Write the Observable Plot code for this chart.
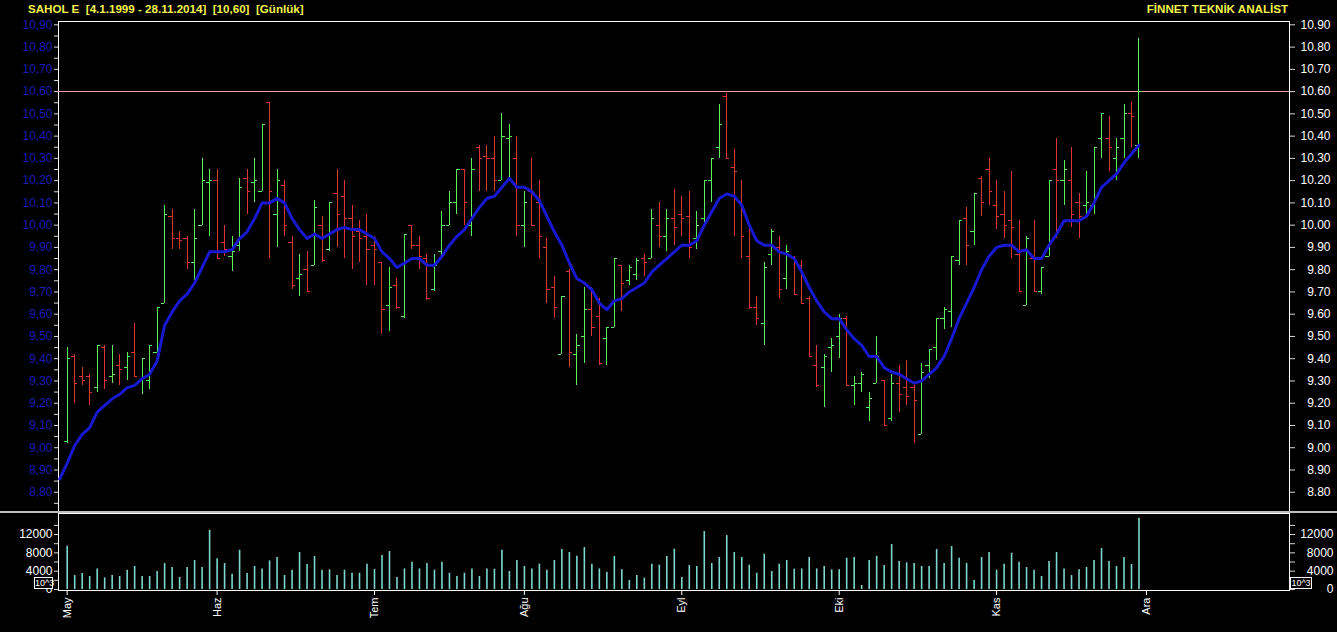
<!DOCTYPE html>
<html><head><meta charset="utf-8">
<script src="https://cdn.jsdelivr.net/npm/d3@7"></script>
<script src="https://cdn.jsdelivr.net/npm/@observablehq/plot@0.6"></script>
<style>
html,body{margin:0;padding:0;background:#000;}
#wrap{position:relative;width:1337px;height:632px;background:#000;overflow:hidden;font-family:"Liberation Sans",Arial,sans-serif;}
#price{position:absolute;left:0;top:0;}
#vol{position:absolute;left:0;top:512px;}
.hdr{position:absolute;top:2px;line-height:14px;color:#f2f24e;font-weight:bold;font-size:11.6px;white-space:pre;}
.sep{position:absolute;left:0;top:511px;width:1337px;height:2px;background:#bdbdbd;}
.exp{position:absolute;top:577px;height:10px;border:1px solid #fff;color:#fff;font-size:9px;line-height:10px;text-align:center;background:#000;}
</style></head>
<body>
<div id="wrap">
  <div id="price"></div>
  <div id="vol"></div>
  <div class="sep"></div>
  <div class="hdr" style="left:28px;">SAHOL E  [4.1.1999 - 28.11.2014]  [10,60]  [Günlük]</div>
  <div class="hdr" style="right:49px;">FİNNET TEKNİK ANALİST</div>
  <div class="exp" style="left:34px;width:17px;">10^3</div>
  <div class="exp" style="left:1290px;width:20px;">10^3</div>
</div>
<script>
// ---- data (daily bars, May–Nov 2014) ----
const opens = [9.03,9.41,9.32,9.32,9.27,9.45,9.32,9.37,9.36,9.43,9.30,9.30,9.43,9.65,10.04,9.94,9.94,9.83,10.00,10.19,
10.20,9.92,9.86,9.91,10.21,10.19,10.15,10.55,10.05,10.18,9.92,9.76,9.80,9.82,10.00,9.89,10.14,10.13,10.03,9.97,
9.95,9.91,9.83,9.64,9.73,9.59,10.00,9.91,9.85,9.71,9.88,10.00,10.10,10.25,10.00,10.35,10.31,10.30,10.20,10.39,
10.30,10.00,10.15,10.10,9.90,9.72,9.42,9.79,9.42,9.50,9.62,9.59,9.49,9.54,9.82,9.75,9.78,9.85,9.85,10.00,
9.95,10.03,10.05,10.04,9.94,10.03,10.20,10.35,10.58,10.26,10.10,9.86,9.63,9.56,9.87,9.90,9.76,9.85,9.82,9.67,
9.37,9.36,9.45,9.50,9.58,9.28,9.29,9.18,9.29,9.30,9.13,9.29,9.27,9.27,9.06,9.37,9.45,9.58,9.61,9.84,
10.03,9.97,10.21,10.25,10.09,10.05,10.02,9.87,9.64,9.85,9.70,9.86,10.25,10.20,10.20,10.10,10.09,10.09,10.39,10.39,
10.30,10.39,10.50,10.36];
const highs = [9.45,9.42,9.36,9.33,9.46,9.46,9.46,9.42,9.43,9.56,9.40,9.46,9.63,10.09,10.07,9.97,9.95,10.07,10.30,10.25,
10.25,10.00,9.95,10.21,10.25,10.30,10.45,10.55,10.25,10.20,9.95,9.87,9.88,10.11,10.04,10.10,10.25,10.20,10.09,10.02,
10.05,9.95,9.83,9.81,9.76,9.96,10.00,9.95,9.87,9.87,10.06,10.15,10.25,10.25,10.30,10.36,10.36,10.40,10.50,10.45,
10.40,10.15,10.30,10.20,9.94,9.77,9.68,9.80,9.51,9.72,9.72,9.67,9.54,9.85,9.82,9.82,9.85,9.87,10.07,10.10,
10.07,10.16,10.13,10.15,10.06,10.20,10.30,10.54,10.59,10.34,10.20,9.98,9.68,9.83,9.98,9.95,9.91,9.86,9.84,9.68,
9.46,9.42,9.49,9.60,9.59,9.32,9.34,9.25,9.50,9.30,9.33,9.37,9.39,9.28,9.38,9.44,9.58,9.63,9.86,10.02,
10.08,10.14,10.22,10.30,10.20,10.15,10.24,10.02,9.95,10.02,9.81,10.20,10.39,10.29,10.35,10.14,10.24,10.35,10.50,10.49,
10.39,10.54,10.55,10.84];
const lows = [9.02,9.20,9.28,9.19,9.25,9.26,9.29,9.28,9.30,9.32,9.24,9.26,9.43,9.65,9.89,9.89,9.80,9.75,10.00,9.95,
9.85,9.86,9.79,9.88,10.05,10.10,10.15,9.85,9.90,9.95,9.71,9.68,9.70,9.82,9.83,9.88,9.90,9.85,9.80,9.83,
9.73,9.73,9.51,9.52,9.62,9.58,9.89,9.80,9.66,9.70,9.86,10.00,10.05,10.00,9.95,10.15,10.15,10.15,10.20,10.20,
9.95,9.90,10.00,9.85,9.65,9.58,9.42,9.36,9.28,9.38,9.50,9.37,9.37,9.54,9.61,9.73,9.75,9.77,9.85,9.90,
9.88,9.91,9.95,9.85,9.89,9.99,10.10,10.30,10.30,9.95,9.85,9.62,9.55,9.46,9.82,9.67,9.71,9.69,9.65,9.41,
9.27,9.18,9.34,9.40,9.28,9.19,9.25,9.12,9.29,9.10,9.12,9.16,9.19,9.02,9.06,9.31,9.39,9.53,9.54,9.82,
9.82,9.91,10.04,10.09,9.98,9.94,9.85,9.70,9.64,9.70,9.69,9.86,9.94,10.09,9.99,9.94,10.04,10.05,10.30,10.24,
10.20,10.30,10.35,10.30];
const closes = [9.40,9.29,9.30,9.25,9.46,9.30,9.33,9.35,9.41,9.32,9.40,9.46,9.63,10.05,9.94,9.93,9.83,9.94,10.20,10.20,
9.85,9.89,9.88,10.17,10.15,10.20,10.45,10.15,10.20,10.00,9.73,9.78,9.70,10.08,9.84,10.10,10.05,10.03,9.95,9.94,
9.89,9.89,9.62,9.72,9.63,9.96,9.91,9.86,9.67,9.82,10.00,10.10,10.25,10.10,10.25,10.30,10.30,10.20,10.40,10.40,
10.00,10.10,10.00,9.95,9.71,9.63,9.68,9.43,9.46,9.62,9.54,9.38,9.54,9.85,9.74,9.81,9.84,9.83,10.03,9.95,
10.03,9.99,10.03,9.90,10.00,10.20,10.30,10.45,10.30,10.24,9.95,9.63,9.58,9.81,9.97,9.71,9.88,9.69,9.65,9.41,
9.28,9.41,9.46,9.58,9.28,9.29,9.33,9.22,9.41,9.10,9.29,9.24,9.23,9.21,9.34,9.44,9.58,9.62,9.86,10.02,
9.91,10.14,10.10,10.15,10.04,10.00,9.99,9.70,9.94,9.70,9.81,10.20,10.20,10.25,10.05,10.04,10.10,10.35,10.50,10.35,
10.35,10.50,10.49,10.60];
const volumes = [9450,3050,3490,2840,4500,2540,3050,2840,4220,5020,2840,2840,3930,5670,4800,2620,4800,6330,4800,12940,
6690,5670,3340,8580,3490,5020,4500,6250,6980,3050,4220,8070,5450,7200,4220,4290,3050,4220,3560,3560,
5530,4360,7420,8290,2620,4500,5960,4500,5670,4220,5960,3560,2840,3560,4500,2840,4500,4430,8580,3930,
6330,5020,4500,5530,4220,6330,8720,8070,7270,9160,5530,4500,3780,7200,4290,1960,3050,2470,5530,5310,
7200,8800,2620,5230,5020,12650,5670,6980,11780,8070,6980,5310,3560,7710,3930,5530,6330,4430,4500,6980,
4500,5020,4290,4290,6830,6980,870,6330,7270,5230,9810,6110,5820,5670,5020,5020,8720,5670,9380,6830,
5670,1960,6980,8070,4220,5530,7920,5960,4800,4220,2840,6110,8070,4500,3050,4290,4800,6330,8940,6110,
5020,6980,5450,15560];
// moving average, starting one bar before the first visible bar
const maStart = -1;
const maValues = [8.86,8.93,9.01,9.06,9.09,9.16,9.19,9.22,9.24,9.27,9.28,9.31,9.33,9.39,9.55,9.61,9.66,9.69,9.74,9.81,9.88,
9.88,9.88,9.89,9.94,9.97,10.03,10.10,10.10,10.12,10.10,10.03,9.98,9.94,9.96,9.94,9.96,9.98,9.99,9.98,9.98,
9.96,9.94,9.88,9.85,9.81,9.83,9.85,9.85,9.82,9.82,9.86,9.91,9.95,9.98,10.03,10.08,10.12,10.13,10.17,10.21,
10.17,10.17,10.15,10.11,10.04,9.97,9.91,9.83,9.76,9.74,9.71,9.65,9.62,9.66,9.67,9.70,9.72,9.74,9.79,9.82,
9.85,9.88,9.91,9.91,9.93,10.00,10.06,10.12,10.14,10.13,10.09,10.00,9.93,9.91,9.91,9.88,9.87,9.85,9.79,9.72,
9.66,9.61,9.58,9.58,9.53,9.49,9.46,9.41,9.41,9.36,9.34,9.33,9.31,9.29,9.30,9.33,9.36,9.41,9.49,9.58,
9.65,9.72,9.80,9.86,9.90,9.91,9.91,9.88,9.89,9.85,9.85,9.91,9.96,10.02,10.02,10.02,10.04,10.10,10.17,10.20,
10.23,10.28,10.32,10.36];
const resistance = [10.60];
const monthIdx = [0,20,41,61,82,103,124,144];
const monthLabels = ["May","Haz","Tem","Ağu","Eyl","Eki","Kas","Ara"];
const priceTicks = [8.8,8.9,9.0,9.1,9.2,9.3,9.4,9.5,9.6,9.7,9.8,9.9,10.0,10.1,10.2,10.3,10.4,10.5,10.6,10.7,10.8,10.9];
const volTicks = [0,4000,8000,12000];
const volMinorTicks = [0,2000,4000,6000,8000,10000,12000,14000];

// ---- build tables ----
const bars = opens.map((o, i) => ({i, open: o, high: highs[i], low: lows[i], close: closes[i], volume: volumes[i]}));
const up = bars.filter(d => d.close >= d.open);
const down = bars.filter(d => d.close < d.open);
const ma = maValues.map((v, k) => ({i: k + maStart, v}));
const priceMinor = d3.range(175, 219).map(k => k / 20);
const monthName = new Map(monthIdx.map((m, k) => [m, monthLabels[k]]));
const xDomain = [-1.16, 163.08];
const GREEN = "#5cf05c", RED = "#e03434", TICK = 0.42;
const crisp = {shapeRendering: "crispEdges"};

function barMarks(data, color) {
  return [
    Plot.ruleX(data, {x: "i", y1: "low", y2: "high", stroke: color, ...crisp}),
    Plot.ruleY(data, {y: "open", x1: d => d.i - TICK, x2: "i", stroke: color, ...crisp}),
    Plot.ruleY(data, {y: "close", x1: "i", x2: d => d.i + TICK, stroke: color, ...crisp})
  ];
}

const price = Plot.plot({
  width: 1337, height: 513,
  marginTop: 21, marginBottom: 1, marginLeft: 58, marginRight: 48,
  style: {background: "black", color: "white", fontFamily: "Liberation Sans, Arial, sans-serif", fontSize: "12px"},
  x: {domain: xDomain, axis: null},
  y: {domain: [8.709, 10.915], axis: null},
  marks: [
    Plot.frame({stroke: "white", ...crisp}),
    Plot.ruleY(resistance, {stroke: "#f09a9a", ...crisp}),
    ...barMarks(up, GREEN),
    ...barMarks(down, RED),
    Plot.line(ma, {x: "i", y: "v", stroke: "#1818d0", strokeWidth: 3, strokeLinejoin: "round"}),
    Plot.axisY({anchor: "left", label: null, ticks: priceMinor, tickSize: 4, tickFormat: () => "", color: "#d8d8d8"}),
    Plot.axisY({anchor: "left", label: null, ticks: priceTicks, tickSize: 0, tickPadding: 6, fontSize: 12,
      tickFormat: d => d.toFixed(2).replace(".", ","), color: "#1c1cb0"}),
    Plot.axisY({anchor: "right", label: null, ticks: priceTicks, tickSize: 5, tickFormat: () => "", color: "#d8d8d8"}),
    Plot.axisY({anchor: "right", label: null, ticks: priceTicks, tickSize: 0, tickPadding: 41, textAnchor: "end", fontSize: 12,
      tickFormat: d => d.toFixed(2), color: "white"})
  ]
});
document.getElementById("price").append(price);

const vol = Plot.plot({
  width: 1337, height: 120,
  marginTop: 1, marginBottom: 42, marginLeft: 58, marginRight: 48,
  style: {background: "black", color: "white", fontFamily: "Liberation Sans, Arial, sans-serif", fontSize: "12px"},
  x: {domain: xDomain, axis: null},
  y: {domain: [-220, 16600], axis: null},
  marks: [
    Plot.ruleX(bars, {x: "i", y1: d => 0, y2: "volume", stroke: "#7cd8cf", strokeWidth: 1.6}),
    Plot.frame({stroke: "white", ...crisp}),
    Plot.axisY({anchor: "left", label: null, ticks: volMinorTicks, tickSize: 4, tickFormat: () => "", color: "#d8d8d8"}),
    Plot.axisY({anchor: "left", label: null, ticks: volTicks, tickSize: 0, tickPadding: 6, fontSize: 12, tickFormat: d => String(d), color: "white"}),
    Plot.axisY({anchor: "right", label: null, ticks: volMinorTicks, tickSize: 5, tickFormat: () => "", color: "#d8d8d8"}),
    Plot.axisY({anchor: "right", label: null, ticks: volTicks, tickSize: 0, tickPadding: 44, textAnchor: "end", fontSize: 12, tickFormat: d => String(d), color: "white"}),
    Plot.axisX({anchor: "bottom", label: null, ticks: monthIdx, tickSize: 5, tickPadding: 2, tickRotate: -90, fontSize: 11,
      tickFormat: d => monthName.get(d), color: "white"})
  ]
});
document.getElementById("vol").append(vol);
</script>
</body></html>
